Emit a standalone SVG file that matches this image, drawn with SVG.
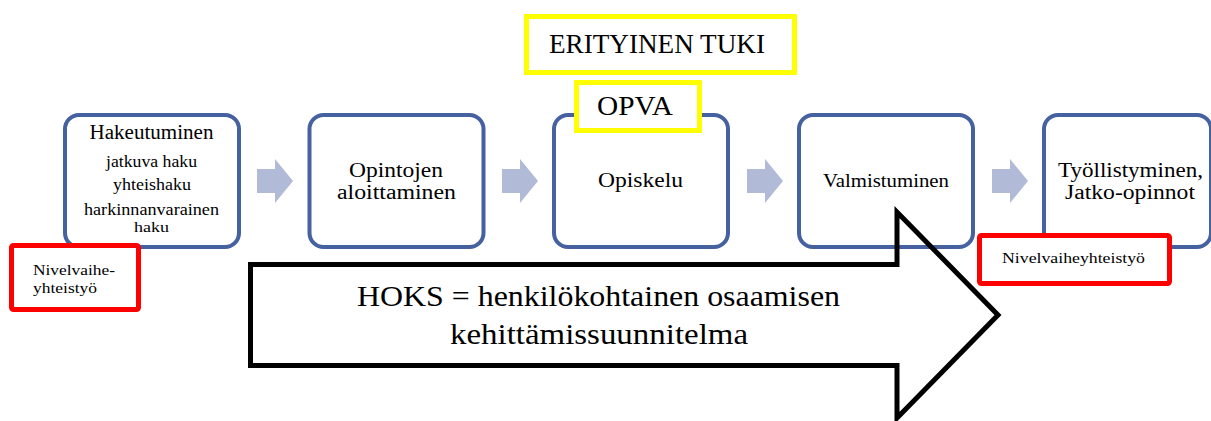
<svg xmlns="http://www.w3.org/2000/svg" width="1211" height="421" viewBox="0 0 1211 421">
  <style>
    text { font-family: "Liberation Serif", "Times New Roman", serif; fill: #000; }
    .c { text-anchor: middle; }
    .step { fill: #fff; stroke: #4661a0; stroke-width: 4; }
    .flow { fill: #b1bad6; stroke: none; }
    .yel { fill: #fff; stroke: #ffff00; stroke-width: 5; }
    .red { fill: #fff; stroke: #ff0000; stroke-width: 5; }
    .big { fill: none; stroke: #000; stroke-width: 5; stroke-linejoin: miter; }
  </style>
  <rect width="1211" height="421" fill="#fff"/>

  <g id="connectors">
    <polygon class="flow" points="257,169 275,169 275,159 293,181 275,203 275,193 257,193"/>
    <polygon class="flow" points="502,169 520,169 520,159 538,181 520,203 520,193 502,193"/>
    <polygon class="flow" points="747,169 765,169 765,159 783,181 765,203 765,193 747,193"/>
    <polygon class="flow" points="992,169 1010,169 1010,159 1028,181 1010,203 1010,193 992,193"/>
  </g>

  <g id="hakeutuminen">
    <rect class="step" x="65" y="115" width="174" height="132" rx="14"/>
    <text class="c" x="151.5" y="139" font-size="20" textLength="124" lengthAdjust="spacingAndGlyphs">Hakeutuminen</text>
    <text class="c" x="151.5" y="167" font-size="16" textLength="91" lengthAdjust="spacingAndGlyphs">jatkuva haku</text>
    <text class="c" x="152" y="190" font-size="16" textLength="78" lengthAdjust="spacingAndGlyphs">yhteishaku</text>
    <text class="c" x="151.5" y="215" font-size="16" textLength="135" lengthAdjust="spacingAndGlyphs">harkinnanvarainen</text>
    <text class="c" x="151.5" y="232" font-size="15" textLength="35" lengthAdjust="spacingAndGlyphs">haku</text>
  </g>

  <g id="aloittaminen">
    <rect class="step" x="309.5" y="115" width="174" height="132" rx="14"/>
    <text class="c" x="396" y="176.5" font-size="20" textLength="94" lengthAdjust="spacingAndGlyphs">Opintojen</text>
    <text class="c" x="396.5" y="199" font-size="20" textLength="119" lengthAdjust="spacingAndGlyphs">aloittaminen</text>
  </g>

  <g id="opiskelu">
    <rect class="step" x="554" y="115" width="174" height="132" rx="14"/>
    <text class="c" x="640.5" y="187" font-size="21" textLength="85" lengthAdjust="spacingAndGlyphs">Opiskelu</text>
  </g>

  <g id="valmistuminen">
    <rect class="step" x="799" y="115" width="174" height="132" rx="14"/>
    <text class="c" x="886" y="187" font-size="19" textLength="126" lengthAdjust="spacingAndGlyphs">Valmistuminen</text>
  </g>

  <g id="tyollistyminen">
    <rect class="step" x="1044" y="115" width="167" height="132" rx="14"/>
    <text class="c" x="1130.5" y="176.5" font-size="20" textLength="145" lengthAdjust="spacingAndGlyphs">Työllistyminen,</text>
    <text class="c" x="1130" y="199" font-size="20" textLength="130" lengthAdjust="spacingAndGlyphs">Jatko-opinnot</text>
  </g>

  <g id="erityinen-tuki">
    <rect class="yel" x="526.5" y="16.5" width="268" height="56"/>
    <text class="c" x="657" y="53" font-size="27" textLength="216" lengthAdjust="spacingAndGlyphs">ERITYINEN TUKI</text>
  </g>

  <g id="opva">
    <rect class="yel" x="576.5" y="82.5" width="123" height="48"/>
    <text class="c" x="635" y="115" font-size="28" textLength="76" lengthAdjust="spacingAndGlyphs">OPVA</text>
  </g>

  <g id="nivelvaihe-1">
    <rect class="red" x="11.5" y="245.5" width="127" height="64" rx="2"/>
    <text x="33" y="275" font-size="15" textLength="82" lengthAdjust="spacingAndGlyphs">Nivelvaihe-</text>
    <text x="33" y="293" font-size="15" textLength="64" lengthAdjust="spacingAndGlyphs">yhteistyö</text>
  </g>

  <g id="nivelvaihe-2">
    <rect class="red" x="979.5" y="235.5" width="190" height="48" rx="2"/>
    <text class="c" x="1073.5" y="263" font-size="14" textLength="143" lengthAdjust="spacingAndGlyphs">Nivelvaiheyhteistyö</text>
  </g>

  <g id="hoks">
    <polygon class="big" points="250.5,264.5 897,264.5 897,212 998,315 897,418 897,365.5 250.5,365.5"/>
    <text class="c" x="598.5" y="306" font-size="30" textLength="483" lengthAdjust="spacingAndGlyphs">HOKS = henkilökohtainen osaamisen</text>
    <text class="c" x="599" y="344" font-size="30" textLength="298" lengthAdjust="spacingAndGlyphs">kehittämissuunnitelma</text>
  </g>
</svg>
